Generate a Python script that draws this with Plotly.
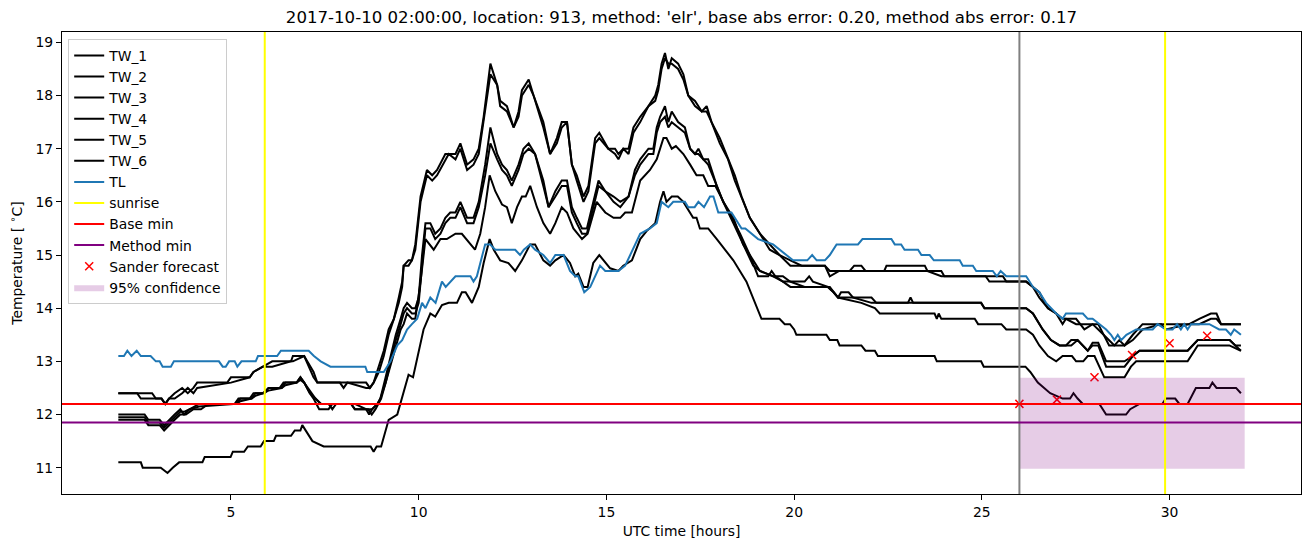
import plotly.graph_objects as go

# ---------------- data ----------------
title_text = "2017-10-10 02:00:00, location: 913, method: 'elr', base abs error: 0.20, method abs error: 0.17"

a_hours = [2.0, 2.5, 2.6, 2.9, 3.0, 3.15, 3.25, 3.35, 3.5, 3.7,
           3.85, 4.0, 4.1, 4.9, 5.0, 5.5, 5.6, 5.85, 6.1, 6.6,
           6.65, 6.95, 7.2, 7.3, 7.9, 8.0, 8.1, 8.6, 8.7, 8.8,
           8.94, 9.07, 9.2, 9.34, 9.47, 9.56, 9.6, 9.73, 9.82, 9.91,
           10.05, 10.22, 10.36, 10.49, 10.71, 10.8, 10.98, 11.11, 11.29, 11.46,
           11.6, 11.73, 11.91, 12.09, 12.17, 12.35, 12.53, 12.66, 12.75, 12.93,
           13.06, 13.32, 13.5, 13.68, 13.81, 13.95, 14.08, 14.21, 14.39, 14.52,
           14.7, 14.81, 15.05, 15.23, 15.32, 15.45, 15.59, 15.72, 15.9, 16.12,
           16.3, 16.38, 16.47, 16.56, 16.65, 16.74, 16.91, 17.05, 17.18, 17.36,
           17.54, 17.67, 17.8, 18.02, 18.24, 18.42, 18.6, 18.82, 19.09, 19.35,
           19.61, 19.9, 20.2, 20.82, 20.95, 21.2, 21.48, 21.6, 21.79, 21.9,
           22.4, 22.46, 23.48, 23.55, 23.92, 24.0, 25.1, 25.2, 25.56, 25.65,
           26.18, 26.36, 26.53, 26.76, 26.98, 27.15, 27.24, 27.51, 27.73, 27.95,
           28.1, 28.39, 28.53, 28.66, 28.8, 29.02, 29.28, 29.77, 29.9, 30.52,
           30.79, 31.1, 31.25, 31.37, 31.9]
tw_1 = [12.4, 12.4, 12.4, 12.4, 12.3, 12.3, 12.2, 12.3, 12.4, 12.5,
        12.4, 12.5, 12.6, 12.6, 12.7, 12.7, 12.8, 12.9, 13.0, 13.0,
        13.1, 13.1, 12.7, 12.6, 12.6, 12.5, 12.6, 12.6, 12.5, 12.6,
        12.9, 13.2, 13.6, 13.8, 14.2, 14.5, 14.8, 14.9, 14.9, 15.2,
        16.1, 16.6, 16.5, 16.6, 16.9, 16.9, 16.9, 17.1, 16.7, 16.8,
        17.0, 17.6, 18.6, 18.2, 17.9, 17.8, 17.4, 17.7, 18.1, 18.3,
        18.0, 17.5, 16.9, 17.2, 17.5, 17.5, 16.7, 16.5, 16.1, 16.3,
        17.2, 17.3, 17.0, 17.0, 16.9, 17.0, 17.0, 17.4, 17.6, 17.8,
        18.0, 18.2, 18.6, 18.8, 18.5, 18.7, 18.6, 18.4, 18.0, 17.9,
        17.7, 17.8, 17.5, 17.2, 16.8, 16.5, 16.1, 15.7, 15.4, 15.2,
        15.0, 14.9, 14.8, 14.8, 14.7, 14.7, 14.7, 14.8, 14.8, 14.7,
        14.7, 14.8, 14.8, 14.7, 14.7, 14.6, 14.6, 14.6, 14.6, 14.5,
        14.5, 14.4, 14.2, 14.0, 13.9, 13.7, 13.8, 13.8, 13.6, 13.7,
        13.7, 13.3, 13.3, 13.4, 13.3, 13.5, 13.7, 13.7, 13.7, 13.7,
        13.8, 13.9, 13.9, 13.7, 13.7]
tw_2 = [12.4, 12.4, 12.3, 12.3, 12.3, 12.3, 12.2, 12.3, 12.3, 12.4,
        12.5, 12.4, 12.5, 12.6, 12.6, 12.7, 12.8, 12.9, 12.9, 13.0,
        13.0, 13.1, 12.8, 12.6, 12.6, 12.6, 12.6, 12.5, 12.5, 12.6,
        12.8, 13.1, 13.5, 13.8, 14.1, 14.4, 14.8, 14.8, 14.9, 15.1,
        16.0, 16.5, 16.4, 16.5, 16.8, 16.9, 16.8, 17.0, 16.6, 16.7,
        16.9, 17.5, 18.4, 18.2, 17.8, 17.7, 17.4, 17.6, 18.0, 18.2,
        18.0, 17.4, 16.9, 17.1, 17.4, 17.5, 16.7, 16.4, 16.0, 16.2,
        17.1, 17.2, 17.0, 16.9, 16.8, 17.0, 16.9, 17.3, 17.5, 17.8,
        17.9, 18.1, 18.5, 18.7, 18.6, 18.6, 18.5, 18.3, 18.0, 17.8,
        17.7, 17.7, 17.5, 17.1, 16.8, 16.4, 16.1, 15.7, 15.4, 15.1,
        15.0, 14.8, 14.8, 14.8, 14.6, 14.7, 14.7, 14.7, 14.7, 14.7,
        14.7, 14.7, 14.7, 14.7, 14.6, 14.6, 14.6, 14.5, 14.5, 14.5,
        14.5, 14.4, 14.3, 14.0, 13.9, 13.8, 13.8, 13.7, 13.7, 13.7,
        13.6, 13.4, 13.3, 13.3, 13.3, 13.4, 13.6, 13.7, 13.6, 13.7,
        13.7, 13.8, 13.8, 13.7, 13.7]

m_hours = [2.0, 2.7, 2.8, 3.1, 3.22, 3.35, 3.5, 3.65, 3.75, 3.9,
           4.15, 5.15, 5.25, 5.55, 5.65, 5.85, 6.0, 6.35, 6.45, 6.75,
           6.85, 6.95, 7.1, 7.25, 7.4, 7.6, 7.7, 7.8, 8.2, 8.3,
           8.6, 8.68, 8.76, 8.9, 8.98, 9.12, 9.25, 9.39, 9.52, 9.6,
           9.69, 9.82, 9.91, 10.0, 10.09, 10.18, 10.31, 10.44, 10.58, 10.71,
           10.84, 10.98, 11.11, 11.29, 11.46, 11.6, 11.77, 11.91, 12.09, 12.22,
           12.35, 12.48, 12.66, 12.79, 12.93, 13.1, 13.32, 13.46, 13.64, 13.81,
           13.95, 14.08, 14.21, 14.35, 14.48, 14.61, 14.79, 14.97, 15.19, 15.37,
           15.59, 15.76, 15.9, 16.12, 16.25, 16.34, 16.43, 16.56, 16.65, 16.74,
           16.91, 17.09, 17.23, 17.36, 17.45, 17.58, 17.71, 17.94, 18.11, 18.38,
           18.64, 18.91, 19.09, 19.44, 19.7, 19.89, 20.28, 20.4, 20.5, 20.9,
           21.05, 21.17, 21.25, 21.45, 21.57, 22.06, 22.19, 23.03, 23.1, 23.17,
           24.98, 25.07, 26.18, 26.36, 26.45, 26.62, 26.84, 27.07, 27.24, 27.38,
           27.55, 27.69, 27.82, 27.95, 28.1, 28.31, 28.8, 29.02, 29.2, 30.48,
           30.75, 30.97, 31.6, 31.75, 31.9]
tw_3 = [12.0, 12.0, 11.9, 11.9, 11.8, 11.9, 12.0, 12.1, 12.0, 12.1,
        12.2, 12.2, 12.3, 12.3, 12.4, 12.4, 12.5, 12.5, 12.6, 12.6,
        12.7, 12.6, 12.4, 12.3, 12.2, 12.2, 12.1, 12.2, 12.2, 12.1,
        12.1, 12.0, 12.1, 12.2, 12.3, 12.7, 13.1, 13.5, 13.8, 14.0,
        14.1, 14.0, 14.0, 14.2, 15.0, 15.6, 15.6, 15.4, 15.5, 15.7,
        15.8, 15.8, 16.0, 15.7, 15.7, 16.0, 16.7, 17.4, 16.9, 16.7,
        16.6, 16.4, 16.7, 17.0, 17.1, 16.9, 16.4, 15.9, 16.2, 16.4,
        16.4, 15.9, 15.7, 15.5, 15.5, 15.9, 16.4, 16.2, 16.1, 16.0,
        16.1, 16.6, 16.8, 17.0, 17.0, 17.4, 17.6, 17.8, 17.5, 17.7,
        17.5, 17.4, 17.0, 16.9, 17.0, 16.8, 16.8, 16.3, 16.0, 15.7,
        15.2, 14.9, 14.7, 14.6, 14.6, 14.5, 14.5, 14.6, 14.5, 14.4,
        14.3, 14.2, 14.3, 14.3, 14.2, 14.2, 14.1, 14.1, 14.2, 14.1,
        14.1, 14.0, 14.0, 13.9, 13.8, 13.6, 13.4, 13.3, 13.3, 13.4,
        13.4, 13.3, 13.2, 13.35, 13.35, 13.0, 13.0, 13.1, 13.2, 13.2,
        13.4, 13.4, 13.4, 13.3, 13.3]
tw_4 = [11.95, 11.95, 11.85, 11.85, 11.75, 11.85, 11.95, 12.05, 12.05, 12.1,
        12.15, 12.2, 12.25, 12.3, 12.35, 12.4, 12.45, 12.5, 12.55, 12.6,
        12.65, 12.6, 12.45, 12.3, 12.2, 12.2, 12.2, 12.2, 12.2, 12.2,
        12.1, 12.1, 12.1, 12.2, 12.3, 12.6, 13.0, 13.4, 13.7, 13.9,
        14.0, 13.9, 13.9, 14.1, 14.8, 15.5, 15.5, 15.3, 15.4, 15.6,
        15.7, 15.7, 15.9, 15.6, 15.6, 15.9, 16.5, 17.1, 16.8, 16.6,
        16.5, 16.3, 16.6, 16.9, 17.0, 16.9, 16.3, 15.9, 16.1, 16.3,
        16.3, 15.8, 15.6, 15.4, 15.4, 15.8, 16.3, 16.2, 16.0, 15.9,
        16.1, 16.5, 16.7, 16.9, 16.9, 17.3, 17.5, 17.6, 17.4, 17.5,
        17.4, 17.3, 17.0, 16.9, 16.9, 16.8, 16.7, 16.3, 16.0, 15.6,
        15.2, 14.8, 14.7, 14.6, 14.5, 14.5, 14.4, 14.4, 14.4, 14.4,
        14.3, 14.2, 14.2, 14.2, 14.2, 14.1, 14.1, 14.1, 14.1, 14.1,
        14.1, 14.0, 14.0, 13.9, 13.8, 13.6, 13.4, 13.3, 13.3, 13.3,
        13.4, 13.3, 13.2, 13.3, 13.3, 12.9, 12.9, 13.1, 13.2, 13.2,
        13.4, 13.4, 13.4, 13.3, 13.2]

c_hours = [2.0, 2.7, 2.8, 3.1, 3.22, 3.35, 3.5, 3.65, 3.8, 4.0,
           4.2, 4.4, 5.1, 5.2, 5.5, 5.6, 5.9, 6.0, 6.3, 6.4,
           6.75, 6.85, 6.95, 7.1, 7.2, 7.35, 7.6, 7.7, 8.2, 8.3,
           8.65, 8.75, 8.85, 9.0, 9.12, 9.25, 9.39, 9.52, 9.6, 9.69,
           9.82, 9.91, 10.05, 10.18, 10.4, 10.58, 10.75, 10.98, 11.15, 11.38,
           11.5, 11.64, 11.77, 11.89, 12.04, 12.22, 12.35, 12.48, 12.62, 12.75,
           12.85, 12.97, 13.15, 13.32, 13.5, 13.64, 13.81, 13.95, 14.12, 14.35,
           14.5, 14.74, 14.97, 15.19, 15.37, 15.5, 15.68, 15.9, 16.16, 16.34,
           16.52, 16.6, 16.74, 16.85, 17.05, 17.23, 17.4, 17.58, 17.71, 17.9,
           18.2, 18.56, 18.82, 19.04, 19.31, 19.4, 19.5, 19.9, 20.15, 20.95,
           21.17, 21.79, 22.15, 22.28, 23.74, 23.8, 23.85, 23.92, 24.81, 24.9,
           25.52, 25.65, 26.18, 26.36, 26.53, 26.76, 26.98, 27.15, 27.4, 27.51,
           27.7, 27.82, 28.0, 28.13, 28.26, 28.8, 28.97, 29.11, 30.48, 30.75,
           31.59, 31.9]
tw_5 = [11.9, 11.9, 11.8, 11.8, 11.7, 11.8, 11.9, 12.0, 12.0, 12.1,
        12.1, 12.2, 12.2, 12.3, 12.3, 12.4, 12.4, 12.5, 12.5, 12.6,
        12.6, 12.7, 12.6, 12.4, 12.3, 12.1, 12.1, 12.2, 12.2, 12.1,
        12.1, 12.0, 12.1, 12.3, 12.6, 12.9, 13.3, 13.6, 13.7, 13.9,
        13.8, 13.8, 14.5, 15.3, 15.1, 15.3, 15.3, 15.4, 15.4, 15.2,
        15.1, 15.4, 15.9, 16.5, 16.2, 15.95, 15.9, 15.6, 15.9, 16.1,
        16.1, 16.3, 15.9, 15.6, 15.4, 15.6, 15.9, 15.8, 15.5, 15.3,
        15.4, 16.0, 15.8, 15.7, 15.7, 15.8, 15.8, 16.4, 16.6, 16.8,
        17.2, 17.2, 17.0, 17.05, 16.9, 16.7, 16.5, 16.5, 16.3, 16.3,
        15.9, 15.4, 15.0, 14.6, 14.6, 14.7, 14.6, 14.4, 14.4, 14.4,
        14.2, 14.1, 14.0, 13.9, 13.9, 13.8, 13.9, 13.8, 13.8, 13.7,
        13.7, 13.6, 13.6, 13.5, 13.3, 13.1, 13.0, 13.1, 13.1, 13.0,
        13.0, 13.1, 13.1, 12.9, 12.7, 12.7, 12.9, 13.0, 13.0, 13.3,
        13.3, 13.2]

d_hours = [2.0, 2.6, 2.65, 3.13, 3.31, 3.45, 3.62, 4.24, 4.3, 4.99,
           5.05, 5.35, 5.45, 5.79, 5.88, 6.14, 6.2, 6.6, 6.7, 6.85,
           6.9, 7.17, 7.47, 8.72, 8.8, 8.88, 9.0, 9.2, 9.43, 9.6,
           9.73, 9.85, 10.0, 10.13, 10.31, 10.44, 10.62, 10.8, 11.02, 11.15,
           11.25, 11.42, 11.6, 11.73, 11.89, 12.0, 12.17, 12.39, 12.57, 12.75,
           12.97, 13.1, 13.32, 13.5, 13.64, 13.86, 14.03, 14.17, 14.25, 14.39,
           14.5, 14.65, 14.81, 14.97, 15.1, 15.32, 15.45, 15.68, 15.9, 16.07,
           16.3, 16.43, 16.52, 16.6, 16.74, 16.9, 17.05, 17.31, 17.4, 17.49,
           17.71, 17.94, 18.38, 18.73, 19.13, 19.61, 19.75, 19.89, 20.0, 20.06,
           20.86, 20.95, 21.15, 21.21, 21.79, 21.9, 22.15, 22.23, 23.74, 23.8,
           24.98, 25.05, 26.16, 26.29, 26.49, 26.82, 26.98, 27.15, 27.35, 27.44,
           27.55, 27.69, 28.13, 28.31, 28.84, 28.95, 29.2, 29.81, 29.9, 30.15,
           30.26, 30.48, 30.7, 31.06, 31.14, 31.25, 31.77, 31.9]
tw_6 = [11.1, 11.1, 11.0, 11.0, 10.9, 11.0, 11.1, 11.1, 11.2, 11.2,
        11.3, 11.3, 11.4, 11.4, 11.5, 11.5, 11.6, 11.6, 11.7, 11.7,
        11.8, 11.5, 11.4, 11.4, 11.3, 11.4, 11.4, 11.9, 12.0, 12.4,
        12.75, 12.7, 13.2, 13.6, 13.9, 13.84, 14.06, 14.1, 14.1, 14.3,
        14.3, 14.1, 14.4, 14.85, 15.3, 15.1, 14.9, 14.85, 14.7, 14.9,
        15.2, 15.2, 14.9, 14.8, 14.9, 15.0, 14.85, 14.6, 14.65, 14.4,
        14.4, 14.85, 15.0, 14.85, 14.75, 14.7, 14.8, 14.9, 15.3, 15.45,
        15.6, 16.0, 16.2, 16.0, 16.1, 16.1, 16.0, 15.7, 15.7, 15.5,
        15.5, 15.3, 14.9, 14.5, 13.8, 13.8, 13.7, 13.7, 13.6, 13.5,
        13.5, 13.4, 13.4, 13.3, 13.3, 13.2, 13.2, 13.1, 13.1, 13.0,
        13.0, 12.9, 12.9, 12.8, 12.6, 12.4, 12.35, 12.3, 12.3, 12.4,
        12.3, 12.2, 12.2, 12.0, 12.0, 12.1, 12.2, 12.2, 12.3, 12.3,
        12.2, 12.2, 12.5, 12.5, 12.6, 12.5, 12.5, 12.4]

tl_hours = [2.0, 2.15, 2.24, 2.35, 2.49, 2.6, 2.86, 3.0, 3.1, 3.18,
            3.4, 3.48, 4.68, 4.78, 4.86, 4.95, 5.1, 5.17, 5.28, 5.66,
            5.72, 6.23, 6.33, 7.07, 7.21, 7.39, 7.65, 8.58, 8.63, 9.07,
            9.25, 9.43, 9.56, 9.69, 9.82, 9.96, 10.09, 10.18, 10.31, 10.45,
            10.62, 10.72, 10.98, 11.38, 11.46, 11.55, 11.77, 11.9, 12.04, 12.57,
            12.7, 12.8, 12.97, 13.1, 13.32, 13.5, 13.64, 13.86, 14.03, 14.17,
            14.25, 14.41, 14.57, 14.83, 14.97, 15.32, 15.5, 15.9, 16.16, 16.34,
            16.47, 16.65, 16.78, 17.09, 17.18, 17.35, 17.45, 17.6, 17.76, 17.85,
            17.98, 18.33, 18.42, 18.6, 18.7, 18.87, 19.04, 19.44, 19.61, 19.8,
            19.97, 20.06, 20.35, 20.48, 20.6, 20.82, 20.95, 21.13, 21.7, 21.82,
            22.59, 22.68, 22.85, 22.94, 23.3, 23.39, 23.61, 23.72, 24.41, 24.49,
            24.76, 24.85, 25.29, 25.4, 25.5, 25.65, 26.18, 26.36, 26.53, 26.71,
            26.98, 27.15, 27.24, 27.69, 27.82, 27.95, 28.13, 28.31, 28.44, 28.53,
            28.62, 28.71, 28.85, 29.11, 29.55, 29.68, 29.9, 30.08, 30.2, 30.3,
            30.39, 30.48, 30.57, 31.06, 31.32, 31.5, 31.63, 31.72, 31.9]
tl = [13.1, 13.1, 13.2, 13.1, 13.2, 13.1, 13.1, 13.0, 13.0, 12.9,
      12.9, 13.0, 13.0, 12.9, 12.9, 13.0, 13.0, 12.9, 13.0, 13.0,
      13.1, 13.1, 13.2, 13.2, 13.1, 13.0, 12.9, 12.9, 12.8, 12.8,
      13.0, 13.3, 13.4, 13.6, 13.7, 13.8, 14.1, 14.0, 14.2, 14.1,
      14.5, 14.4, 14.6, 14.6, 14.5, 14.6, 15.2, 15.2, 15.1, 15.1,
      15.0, 15.1, 15.2, 15.1, 15.0, 14.85, 15.0, 15.0, 14.7, 14.6,
      14.6, 14.3, 14.4, 14.8, 14.7, 14.7, 14.8, 15.4, 15.5, 15.6,
      16.0, 15.9, 16.0, 16.0, 15.9, 15.9, 16.0, 15.9, 16.1, 16.1,
      15.8, 15.8, 15.7, 15.5, 15.5, 15.4, 15.3, 15.2, 15.1, 15.0,
      14.9, 14.9, 14.9, 15.0, 14.9, 14.9, 15.0, 15.2, 15.2, 15.3,
      15.3, 15.2, 15.2, 15.1, 15.1, 15.0, 15.0, 14.9, 14.9, 14.8,
      14.8, 14.7, 14.7, 14.6, 14.7, 14.6, 14.6, 14.4, 14.3, 14.1,
      13.9, 13.8, 13.9, 13.9, 13.8, 13.8, 13.7, 13.6, 13.5, 13.4,
      13.5, 13.4, 13.5, 13.6, 13.6, 13.7, 13.6, 13.6, 13.7, 13.6,
      13.7, 13.6, 13.7, 13.7, 13.6, 13.6, 13.5, 13.6, 13.5]

sunrise_hours = [5.9, 29.88]
forecast_hour = 26.0
base_min = 12.2
method_min = 11.85
sander_hours = [26, 27, 28, 29, 30, 31]
sander_temp = [12.2, 12.28, 12.7, 13.12, 13.34, 13.48]
conf_hours = [26.0, 32.0]
conf_low = 10.98
conf_high = 12.69

x_ticks = [5, 10, 15, 20, 25, 30]
y_ticks = [11, 12, 13, 14, 15, 16, 17, 18, 19]

# ---------------- figure ----------------
FONT = "DejaVu Sans"
FS = 13.9
fig = go.Figure()

series = [("TW_1", a_hours, tw_1), ("TW_2", a_hours, tw_2),
          ("TW_3", m_hours, tw_3), ("TW_4", m_hours, tw_4),
          ("TW_5", c_hours, tw_5), ("TW_6", d_hours, tw_6)]
for name, xs, ys in series:
    fig.add_trace(go.Scatter(x=xs, y=ys, mode="lines", name=name,
                             line=dict(color="black", width=2)))
fig.add_trace(go.Scatter(x=tl_hours, y=tl, mode="lines", name="TL",
                         line=dict(color="#1f77b4", width=2)))

# legend-only entries for reference lines (drawn as shapes below)
for name, col in [("sunrise", "yellow"), ("Base min", "red"), ("Method min", "purple")]:
    fig.add_trace(go.Scatter(x=[None], y=[None], mode="lines", name=name,
                             line=dict(color=col, width=2)))

fig.add_trace(go.Scatter(x=sander_hours, y=sander_temp, mode="markers", name="Sander forecast",
                         marker=dict(symbol="x-thin", size=8, color="red",
                                     line=dict(color="red", width=1.5))))

cx0, cx1 = conf_hours
fig.add_trace(go.Scatter(x=[cx0, cx1, cx1, cx0, cx0],
                         y=[conf_low, conf_low, conf_high, conf_high, conf_low],
                         mode="lines", fill="toself", name="95% confidence",
                         fillcolor="rgba(128,0,128,0.2)", line=dict(width=0)))

for h in sunrise_hours:
    fig.add_shape(type="line", xref="x", yref="paper", x0=h, x1=h, y0=0, y1=1,
                  line=dict(color="yellow", width=2))
fig.add_shape(type="line", xref="x", yref="paper", x0=forecast_hour, x1=forecast_hour,
              y0=0, y1=1, line=dict(color="gray", width=2))
fig.add_shape(type="line", xref="paper", yref="y", x0=0, x1=1, y0=base_min, y1=base_min,
              line=dict(color="red", width=2))
fig.add_shape(type="line", xref="paper", yref="y", x0=0, x1=1, y0=method_min, y1=method_min,
              line=dict(color="purple", width=2))

axis_common = dict(showgrid=False, zeroline=False, showline=True, mirror=True,
                   linecolor="black", linewidth=1, ticks="outside", ticklen=5,
                   tickwidth=1, tickcolor="black",
                   tickfont=dict(family=FONT, size=FS, color="black"))

fig.update_layout(
    width=1311, height=547,
    margin=dict(l=62, r=10, t=32, b=53),
    paper_bgcolor="white", plot_bgcolor="white",
    font=dict(family=FONT, color="black"),
    title=dict(text=title_text, x=0.5, xref="paper", xanchor="center",
               y=1 - 17 / 547, yref="container", yanchor="middle",
               font=dict(family=FONT, size=16.6, color="black")),
    xaxis=dict(range=[0.5, 33.5], tickvals=x_ticks,
               title=dict(text="UTC time [hours]", font=dict(family=FONT, size=FS), standoff=7),
               **axis_common),
    yaxis=dict(range=[10.505, 19.195], tickvals=y_ticks,
               title=dict(text="Temperature [ <sup>∘</sup>C]", font=dict(family=FONT, size=FS), standoff=9),
               **axis_common),
    legend=dict(x=0.005, y=0.985, xanchor="left", yanchor="top",
                bgcolor="rgba(255,255,255,0.8)", bordercolor="#cccccc", borderwidth=1,
                font=dict(family=FONT, size=FS, color="black"),
                tracegroupgap=0, itemwidth=30),
    showlegend=True,
)

fig.write_html("out.html")
